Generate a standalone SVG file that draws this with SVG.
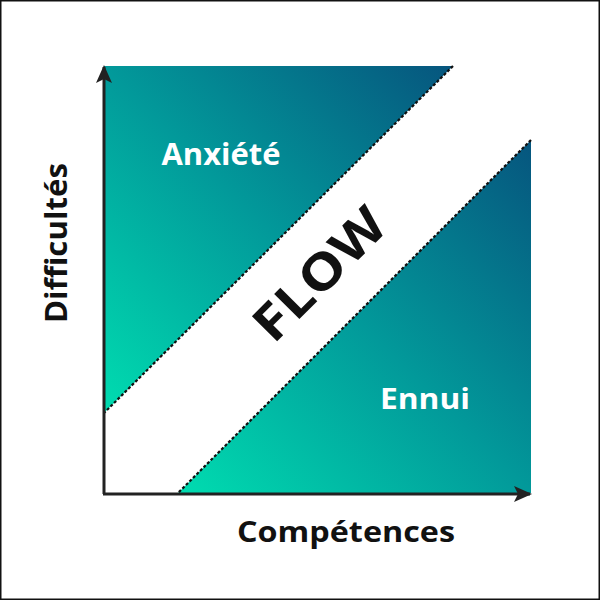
<svg xmlns="http://www.w3.org/2000/svg" width="600" height="600" viewBox="0 0 600 600">
  <style>
    .zone-label { font-family: "Open Sans", "Liberation Sans", sans-serif; font-weight: 700; fill: #ffffff; }
    .axis-label { font-family: "Open Sans", "Liberation Sans", sans-serif; font-weight: 700; fill: #111111; }
    .flow { font-family: "Open Sans", "Liberation Sans", sans-serif; font-weight: 700; fill: #111111; }
    .boundary { stroke: #111111; stroke-width: 2.2; stroke-dasharray: 3 2; fill: none; }
    .axis { stroke: #222222; stroke-width: 3; fill: none; }
  </style>
  <defs>
    <linearGradient id="zoneGrad" x1="0" y1="1" x2="1" y2="0">
      <stop offset="0" stop-color="#00dcb0"/>
      <stop offset="0.5" stop-color="#02999a"/>
      <stop offset="1" stop-color="#06557e"/>
    </linearGradient>
    <marker id="arrow" viewBox="0 0 18 16" refX="16" refY="8" markerWidth="18" markerHeight="16" markerUnits="userSpaceOnUse" orient="auto">
      <path d="M0,0 L18,8 L0,16 L4,8 z" fill="#222222"/>
    </marker>
  </defs>
  <rect x="0.75" y="0.75" width="598.5" height="598.5" fill="#ffffff" stroke="#111111" stroke-width="1.5"/>

  <g id="anxiete">
    <polygon points="104,66 453,66 104,413" fill="url(#zoneGrad)"/>
    <text class="zone-label" x="221" y="165" font-size="30" text-anchor="middle" textLength="119" lengthAdjust="spacingAndGlyphs">Anxiété</text>
  </g>
  <g id="ennui">
    <polygon points="178,493 531,140 531,493" fill="url(#zoneGrad)"/>
    <text class="zone-label" x="425" y="409" font-size="29" text-anchor="middle" textLength="90" lengthAdjust="spacingAndGlyphs">Ennui</text>
  </g>
  <g id="flow">
    <text class="flow" x="319" y="292" font-size="50" text-anchor="middle" transform="rotate(-45 319 274)" textLength="165" lengthAdjust="spacingAndGlyphs">FLOW</text>
  </g>

  <g id="connectors">
    <line class="boundary" x1="453" y1="66" x2="104" y2="413"/>
    <line class="boundary" x1="531" y1="140" x2="178" y2="493"/>
    <line class="axis" x1="104" y1="494" x2="104" y2="67" marker-end="url(#arrow)"/>
    <line class="axis" x1="103" y1="494" x2="530" y2="494" marker-end="url(#arrow)"/>
  </g>

  <g id="axis-y-label">
    <text class="axis-label" x="0" y="0" font-size="30" text-anchor="middle" transform="translate(67 243) rotate(-90)" textLength="160" lengthAdjust="spacingAndGlyphs">Difficultés</text>
  </g>
  <g id="axis-x-label">
    <text class="axis-label" x="346" y="542" font-size="28" text-anchor="middle" textLength="218" lengthAdjust="spacingAndGlyphs">Compétences</text>
  </g>
</svg>
